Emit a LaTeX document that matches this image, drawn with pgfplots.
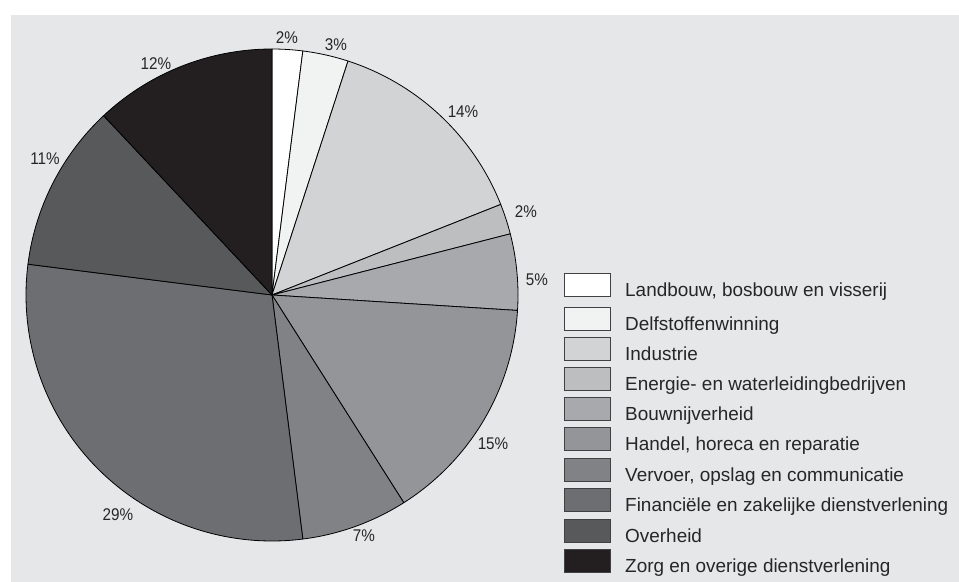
\documentclass[border=0pt]{standalone}
\usepackage{pgfplots}
\pgfplotsset{compat=1.18}
\usepackage{fontspec}
\setmainfont{Liberation Sans}
\definecolor{bg}{HTML}{E6E7E8}
\definecolor{c1}{HTML}{FFFFFF}
\definecolor{c2}{HTML}{F1F2F2}
\definecolor{c3}{HTML}{D1D3D4}
\definecolor{c4}{HTML}{BCBEC0}
\definecolor{c5}{HTML}{A7A9AC}
\definecolor{c6}{HTML}{939598}
\definecolor{c7}{HTML}{808285}
\definecolor{c8}{HTML}{6D6E71}
\definecolor{c9}{HTML}{58595B}
\definecolor{c10}{HTML}{231F20}
\definecolor{edge}{HTML}{414042}
% #1 = cumulative start (%), #2 = share (%), #3 = colour
\newcommand{\slice}[3]{%
  \addplot[fill=#3, draw=black, line width=0.8bp, line join=round,
    domain=3.6*#1:3.6*(#1+#2), samples=80, variable=\t]
    ({272+246*sin(\t)}, {295-246*cos(\t)}) -- (axis cs:272,295) -- cycle;
}
\newcommand{\legitem}[3]{% #1 box bottom y, #2 colour, #3 text
  \draw[edge, line width=0.9bp, fill=#2] (axis cs:564,#1-23) rectangle (axis cs:610,#1);
  \node[anchor=base west, inner sep=0pt, text=black!85, font=\fontsize{19}{21}\selectfont] at (axis cs:625,#1) {#3};
}
\newcommand{\pct}[3]{%
  \node[inner sep=0pt, text=black!85, font=\fontsize{17}{19}\selectfont, xscale=0.9] at (axis cs:#1,#2) {#3\%};
}
\begin{document}
\begin{tikzpicture}
\begin{axis}[
  at={(0,0)}, anchor=south west,
  scale only axis, width=959bp, height=582bp,
  xmin=0, xmax=959, ymin=0, ymax=582, y dir=reverse,
  hide axis, clip=false]
  \fill[white] (axis cs:0,0) rectangle (axis cs:959,582);
  \fill[bg] (axis cs:11,15) rectangle (axis cs:959,582);
  \slice{0}{2}{c1}
  \slice{2}{3}{c2}
  \slice{5}{14}{c3}
  \slice{19}{2}{c4}
  \slice{21}{5}{c5}
  \slice{26}{15}{c6}
  \slice{41}{7}{c7}
  \slice{48}{29}{c8}
  \slice{77}{11}{c9}
  \slice{88}{12}{c10}
  \pct{287}{38}{2}
  \pct{336}{45}{3}
  \pct{463}{112}{14}
  \pct{526}{212}{2}
  \pct{537}{280}{5}
  \pct{493}{444}{15}
  \pct{364}{536}{7}
  \pct{118}{515}{29}
  \pct{45}{159}{11}
  \pct{156}{64}{12}
  \legitem{296}{c1}{Landbouw, bosbouw en visserij}
  \legitem{330}{c2}{Delfstoffenwinning}
  \legitem{360}{c3}{Industrie}
  \legitem{390}{c4}{Energie- en waterleidingbedrijven}
  \legitem{420}{c5}{Bouwnijverheid}
  \legitem{450}{c6}{Handel, horeca en reparatie}
  \legitem{481}{c7}{Vervoer, opslag en communicatie}
  \legitem{511}{c8}{Financiële en zakelijke dienstverlening}
  \legitem{542}{c9}{Overheid}
  \legitem{572}{c10}{Zorg en overige dienstverlening}
\end{axis}
\end{tikzpicture}
\end{document}
